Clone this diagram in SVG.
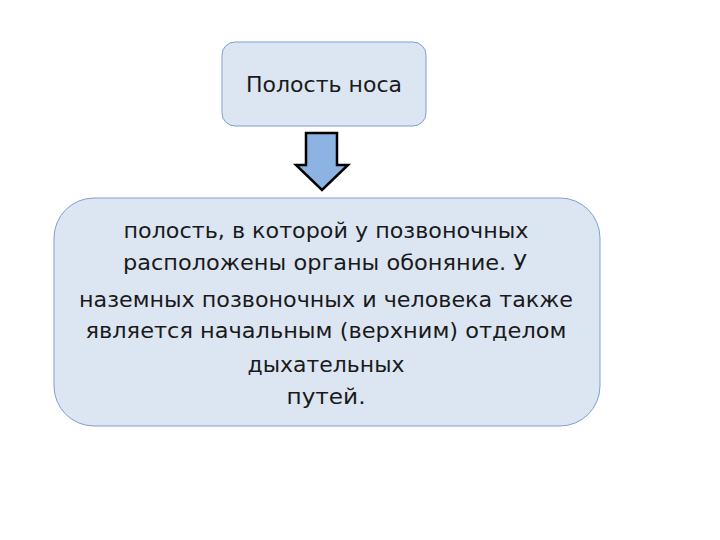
<svg xmlns="http://www.w3.org/2000/svg" width="720" height="540" viewBox="0 0 720 540">
<style>
.box{fill:#dce6f2;stroke:#7f9fcf;stroke-width:1}
.t{font-family:"DejaVu Sans","Noto Sans",sans-serif;font-size:22px;fill:#1a1a1a;text-anchor:middle}
</style>
<rect width="720" height="540" fill="#ffffff"/>
<g id="node-top">
<rect class="box" x="222" y="42" width="204" height="84" rx="13"/>
<text class="t" x="324" y="92" textLength="156" lengthAdjust="spacingAndGlyphs">Полость носа</text>
</g>
<g id="connectors">
<polygon points="306,133 337,133 337,165 348,165 322,190 296,165 306,165" fill="#8db3e2" stroke="#000" stroke-width="2.5" stroke-linejoin="miter"/>
</g>
<g id="node-main">
<rect class="box" x="54" y="198" width="546" height="228" rx="40"/>
<text class="t" x="326" y="238" textLength="405" lengthAdjust="spacingAndGlyphs">полость, в которой у позвоночных</text>
<text class="t" x="325" y="270" textLength="404" lengthAdjust="spacingAndGlyphs">расположены органы обоняние. У</text>
<text class="t" x="326" y="307" textLength="494" lengthAdjust="spacingAndGlyphs">наземных позвоночных и человека также</text>
<text class="t" x="326" y="338" textLength="481" lengthAdjust="spacingAndGlyphs">является начальным (верхним) отделом</text>
<text class="t" x="326" y="372" textLength="157" lengthAdjust="spacingAndGlyphs">дыхательных</text>
<text class="t" x="326" y="404" textLength="79" lengthAdjust="spacingAndGlyphs">путей.</text>
</g>
</svg>
